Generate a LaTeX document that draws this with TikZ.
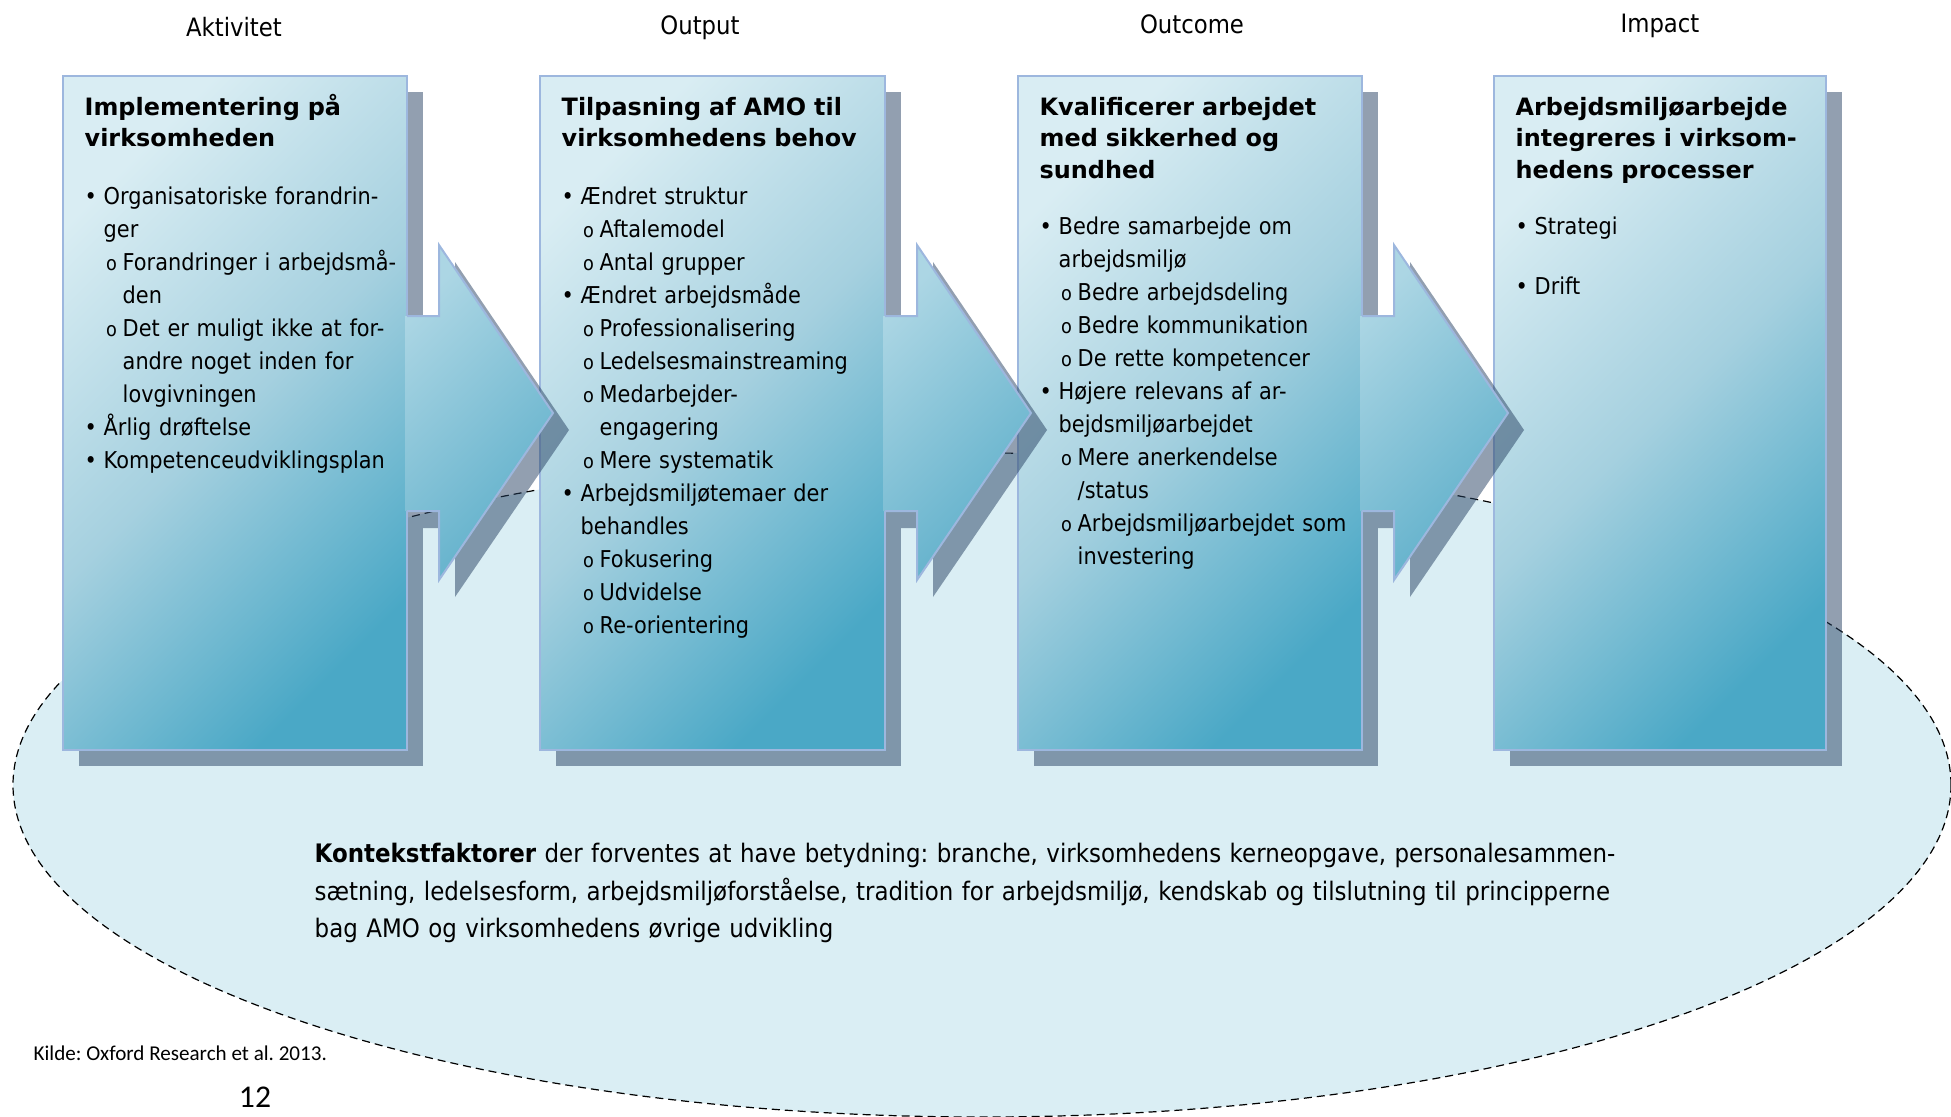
\documentclass[tikz,border=0pt]{standalone}
\usepackage{fontspec}
\setmainfont{DejaVu Sans}[FakeStretch=0.9]
\newfontfamily\headfont{DejaVu Sans}
\newfontfamily\srcfont{Carlito}
\frenchspacing

\definecolor{boxborder}{HTML}{9DB7DE}
\definecolor{boxlight}{HTML}{D9EDF3}
\definecolor{boxmid}{HTML}{A5D0DF}
\definecolor{boxdark}{HTML}{4AA8C6}
\definecolor{arrowlight}{HTML}{ACD6E4}
\definecolor{arrowdark}{HTML}{5EAFCA}
\definecolor{shadowcol}{rgb}{0.15,0.25,0.38}
\definecolor{contextfill}{HTML}{DAEEF4}

% bullets of the lists
\newcommand{\pointA}{\makebox[0.19cm][l]{\textbullet}}
\newcommand{\moreA}{\hspace*{0.19cm}}
\newcommand{\subo}{{\fontsize{5.6pt}{5.6pt}\selectfont o}}
\newcommand{\pointB}{\hspace*{0.215cm}\makebox[0.165cm][l]{\subo}}
\newcommand{\moreB}{\hspace*{0.38cm}}

\tikzset{
  panel/.style={draw=boxborder, line width=0.02cm, top color=boxlight,
    bottom color=boxdark, middle color=boxmid, shading angle=45},
  panelshadow/.style={fill=shadowcol, fill opacity=0.5},
  tipfill/.style={top color=arrowlight, bottom color=arrowdark, shading angle=45},
  tipline/.style={draw=boxborder, line width=0.02cm, line join=miter},
  context/.style={draw=black, line width=0.012cm,
    dash pattern=on 0.08cm off 0.05cm, fill=contextfill},
  stage/.style={anchor=base, inner sep=0pt, font=\fontsize{7.2pt}{8.6pt}\selectfont},
  panelhead/.style={anchor=base west, inner sep=0pt, text width=4.2cm, align=left,
    font=\headfont\bfseries\fontsize{6.8pt}{9.1pt}\selectfont},
  panellist/.style={anchor=base west, inner sep=0pt, text width=4.2cm, align=left,
    font=\fontsize{6.6pt}{9.39pt}\selectfont},
  contexttext/.style={anchor=base west, inner sep=0pt, text width=14cm, align=left,
    font=\fontsize{7.25pt}{10.7pt}\selectfont},
  sourcetext/.style={anchor=base west, inner sep=0pt, font=\srcfont\fontsize{6pt}{7pt}\selectfont}
}

\begin{document}
\begin{tikzpicture}
\useasboundingbox (0,0) rectangle (19.51,11.16);

% Drawing context ellipse
\draw [context] (9.82,3.31) ellipse [x radius=9.69, y radius=3.32];

% Drawing shadows of panels
\fill [panelshadow] (0.79,3.50) rectangle (4.23,10.24);
\fill [panelshadow] (5.56,3.50) rectangle (9.01,10.24);
\fill [panelshadow] (10.34,3.50) rectangle (13.78,10.24);
\fill [panelshadow] (15.10,3.50) rectangle (18.42,10.24);

% Drawing panels
\draw [panel] (0.63,3.66) rectangle (4.07,10.40);
\draw [panel] (5.40,3.66) rectangle (8.85,10.40);
\draw [panel] (10.18,3.66) rectangle (13.62,10.40);
\draw [panel] (14.94,3.66) rectangle (18.26,10.40);

% Drawing arrow Aktivitet Output
\fill [panelshadow] (4.23,7.83) -- (4.55,7.83) -- (4.55,8.54) -- (5.69,6.86) -- (4.55,5.19) -- (4.55,5.88) -- (4.23,5.88) -- cycle;
\shade [tipfill] (4.05,8.00) -- (4.39,8.00) -- (4.39,8.71) -- (5.53,7.03) -- (4.39,5.36) -- (4.39,6.05) -- (4.05,6.05) -- cycle;
\draw [tipline] (4.07,8.00) -- (4.39,8.00) -- (4.39,8.71) -- (5.53,7.03) -- (4.39,5.36) -- (4.39,6.05) -- (4.07,6.05);

% Drawing arrow Output Outcome
\fill [panelshadow] (9.01,7.83) -- (9.33,7.83) -- (9.33,8.54) -- (10.47,6.86) -- (9.33,5.19) -- (9.33,5.88) -- (9.01,5.88) -- cycle;
\shade [tipfill] (8.83,8.00) -- (9.17,8.00) -- (9.17,8.71) -- (10.31,7.03) -- (9.17,5.36) -- (9.17,6.05) -- (8.83,6.05) -- cycle;
\draw [tipline] (8.85,8.00) -- (9.17,8.00) -- (9.17,8.71) -- (10.31,7.03) -- (9.17,5.36) -- (9.17,6.05) -- (8.85,6.05);

% Drawing arrow Outcome Impact
\fill [panelshadow] (13.78,7.83) -- (14.10,7.83) -- (14.10,8.54) -- (15.24,6.86) -- (14.10,5.19) -- (14.10,5.88) -- (13.78,5.88) -- cycle;
\shade [tipfill] (13.60,8.00) -- (13.94,8.00) -- (13.94,8.71) -- (15.08,7.03) -- (13.94,5.36) -- (13.94,6.05) -- (13.60,6.05) -- cycle;
\draw [tipline] (13.62,8.00) -- (13.94,8.00) -- (13.94,8.71) -- (15.08,7.03) -- (13.94,5.36) -- (13.94,6.05) -- (13.62,6.05);

% Stage titles
\node [stage] (aktivitet) at (2.34,10.79) {Aktivitet};
\node [stage] (output) at (7.00,10.81) {Output};
\node [stage] (outcome) at (11.92,10.825) {Outcome};
\node [stage] (impact) at (16.60,10.84) {Impact};

% Panel Aktivitet
\node [panelhead] (headakt) at (0.84,10.01) {Implementering på\\virksomheden};
\node [panellist] (listakt) at (0.84,9.12) {%
\pointA Organisatoriske forandrin-\\
\moreA ger\\
\pointB Forandringer i arbejdsmå-\\
\moreB den\\
\pointB Det er muligt ikke at for-\\
\moreB andre noget inden for\\
\moreB lovgivningen\\
\pointA Årlig drøftelse\\
\pointA Kompetenceudviklingsplan};

% Panel Output
\node [panelhead] (headout) at (5.61,10.01) {Tilpasning af AMO til\\virksomhedens behov};
\node [panellist] (listout) at (5.61,9.12) {%
\pointA Ændret struktur\\
\pointB Aftalemodel\\
\pointB Antal grupper\\
\pointA Ændret arbejdsmåde\\
\pointB Professionalisering\\
\pointB Ledelsesmainstreaming\\
\pointB Medarbejder-\\
\moreB engagering\\
\pointB Mere systematik\\
\pointA Arbejdsmiljøtemaer der\\
\moreA behandles\\
\pointB Fokusering\\
\pointB Udvidelse\\
\pointB Re-orientering};

% Panel Outcome
\node [panelhead] (headoutc) at (10.39,10.01) {Kvalificerer arbejdet\\med sikkerhed og\\sundhed};
\node [panellist] (listoutc) at (10.39,8.82) {%
\pointA Bedre samarbejde om\\
\moreA arbejdsmiljø\\
\pointB Bedre arbejdsdeling\\
\pointB Bedre kommunikation\\
\pointB De rette kompetencer\\
\pointA Højere relevans af ar-\\
\moreA bejdsmiljøarbejdet\\
\pointB Mere anerkendelse\\
\moreB /status\\
\pointB Arbejdsmiljøarbejdet som\\
\moreB investering};

% Panel Impact
\node [panelhead] (headimp) at (15.15,10.01) {Arbejdsmiljøarbejde\\integreres i virksom-\\hedens processer};
\node [panellist] (listimp) at (15.15,8.82) {%
\pointA Strategi\\[0.27cm]
\pointA Drift};

% Context factors
\node [contexttext] (kontekst) at (3.14,2.535) {%
\textbf{Kontekstfaktorer} der forventes at have betydning: branche, virksomhedens kerneopgave, personalesammen-\\
sætning, ledelsesform, arbejdsmiljøforståelse, tradition for arbejdsmiljø, kendskab og tilslutning til principperne\\
bag AMO og virksomhedens øvrige udvikling};

% Source and page number
\node [sourcetext] (kilde) at (0.33,0.56) {Kilde: Oxford Research et al. 2013.};
\node [anchor=base, inner sep=0pt, font=\srcfont\fontsize{9pt}{10pt}\selectfont] (side) at (2.55,0.09) {12};
\end{tikzpicture}
\end{document}
